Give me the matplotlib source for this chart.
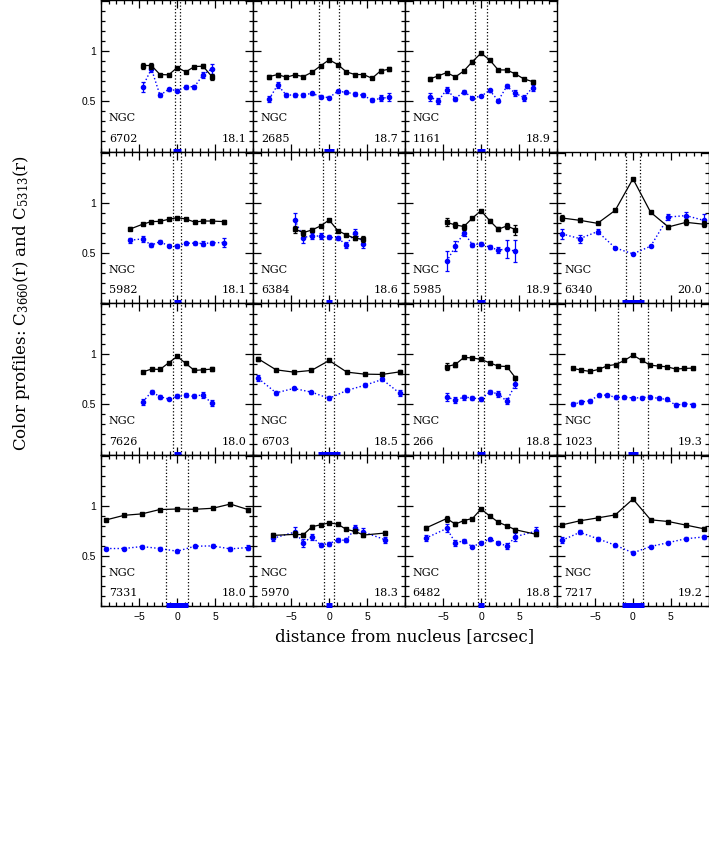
import numpy as np
import matplotlib
matplotlib.use('Agg')
import matplotlib.pyplot as plt
from matplotlib.ticker import MultipleLocator, FixedLocator

plt.rcParams['mathtext.fontset'] = 'dejavuserif'

# ---------------- data ----------------
galaxies = ['6702', '2685', '1161', '5982', '6384', '5985', '6340',
            '7626', '6703', '266', '1023', '7331', '5970', '6482', '7217']
magnitudes = [18.1, 18.7, 18.9, 18.1, 18.6, 18.9, 20.0,
              18.0, 18.5, 18.8, 19.3, 18.0, 18.3, 18.8, 19.2]
aperture_halfwidth = [0.35, 1.28, 0.8, 0.53, 0.83, 0.5, 0.92,
                      0.5, 0.6, 0.35, 1.95, 1.42, 0.65, 0.46, 1.37]
seeing_halfwidth = [0.55, 0.65, 0.55, 0.45, 0.4, 0.48, 1.5,
                    0.45, 1.45, 0.48, 0.6, 1.45, 0.4, 0.4, 1.47]

r_6702 = [-4.55, -3.4, -2.27, -1.13, 0, 1.13, 2.27, 3.4, 4.55]
c3660_6702 = [0.857, 0.857, 0.767, 0.764, 0.837, 0.794, 0.847, 0.85, 0.747]
e3660_6702 = [0.03, 0.03, 0.01, 0.01, 0.01, 0.01, 0.01, 0.02, 0.03]
c5313_6702 = [0.647, 0.824, 0.56, 0.62, 0.607, 0.644, 0.647, 0.764, 0.824]
e5313_6702 = [0.05, 0.03, 0.02, 0.015, 0.015, 0.02, 0.02, 0.03, 0.05]

r_2685 = [-7.9, -6.78, -5.65, -4.52, -3.39, -2.26, -1.13, 0, 1.13, 2.26, 3.39, 4.52, 5.65, 6.78, 7.9]
c3660_2685 = [0.747, 0.767, 0.74, 0.764, 0.747, 0.79, 0.854, 0.914, 0.867, 0.794, 0.767, 0.767, 0.73, 0.804, 0.82]
e3660_2685 = [0.02, 0.02, 0.01, 0.01, 0.01, 0.01, 0.01, 0.01, 0.01, 0.01, 0.01, 0.01, 0.01, 0.02, 0.02]
c5313_2685 = [0.523, 0.663, 0.563, 0.563, 0.563, 0.58, 0.547, 0.537, 0.6, 0.59, 0.573, 0.56, 0.51, 0.53, 0.54]
e5313_2685 = [0.03, 0.03, 0.02, 0.02, 0.02, 0.015, 0.015, 0.015, 0.015, 0.015, 0.02, 0.02, 0.02, 0.03, 0.04]

r_1161 = [-6.78, -5.65, -4.52, -3.39, -2.26, -1.13, 0, 1.13, 2.26, 3.39, 4.52, 5.65, 6.78]
c3660_1161 = [0.723, 0.753, 0.787, 0.743, 0.803, 0.897, 0.98, 0.913, 0.813, 0.813, 0.773, 0.723, 0.697]
e3660_1161 = [0.02, 0.02, 0.01, 0.01, 0.01, 0.01, 0.01, 0.01, 0.01, 0.01, 0.01, 0.01, 0.015]
c5313_1161 = [0.547, 0.503, 0.617, 0.527, 0.597, 0.537, 0.55, 0.61, 0.507, 0.65, 0.58, 0.537, 0.637]
e5313_1161 = [0.04, 0.03, 0.03, 0.02, 0.02, 0.01, 0.01, 0.015, 0.015, 0.02, 0.03, 0.03, 0.03]

r_5982 = [-6.18, -4.56, -3.42, -2.28, -1.14, 0, 1.14, 2.28, 3.42, 4.56, 6.14]
c3660_5982 = [0.738, 0.785, 0.811, 0.814, 0.834, 0.851, 0.837, 0.807, 0.817, 0.817, 0.811]
e3660_5982 = [0.015, 0.01, 0.01, 0.01, 0.01, 0.01, 0.01, 0.01, 0.01, 0.015, 0.02]
c5313_5982 = [0.626, 0.639, 0.576, 0.612, 0.569, 0.566, 0.596, 0.596, 0.593, 0.6, 0.603]
e5313_5982 = [0.025, 0.03, 0.02, 0.015, 0.015, 0.02, 0.015, 0.015, 0.02, 0.02, 0.04]

r_6384 = [-4.52, -3.39, -2.26, -1.13, 0, 1.13, 2.26, 3.39, 4.52]
c3660_6384 = [0.735, 0.702, 0.728, 0.768, 0.827, 0.722, 0.679, 0.645, 0.636]
e3660_6384 = [0.035, 0.03, 0.02, 0.01, 0.01, 0.01, 0.01, 0.02, 0.03]
c5313_6384 = [0.827, 0.652, 0.672, 0.665, 0.655, 0.649, 0.579, 0.702, 0.593]
e5313_6384 = [0.07, 0.05, 0.03, 0.03, 0.02, 0.02, 0.03, 0.04, 0.04]

r_5985 = [-4.52, -3.39, -2.26, -1.13, 0, 1.13, 2.26, 3.39, 4.52]
c3660_5985 = [0.804, 0.778, 0.762, 0.847, 0.92, 0.821, 0.735, 0.768, 0.732]
e3660_5985 = [0.04, 0.03, 0.03, 0.015, 0.01, 0.015, 0.02, 0.03, 0.05]
c5313_5985 = [0.414, 0.566, 0.698, 0.583, 0.589, 0.556, 0.529, 0.536, 0.516]
e5313_5985 = [0.10, 0.05, 0.03, 0.02, 0.02, 0.02, 0.03, 0.09, 0.11]

r_6340 = [-9.32, -6.99, -4.66, -2.33, 0, 2.33, 4.66, 6.99, 9.32]
c3660_6340 = [0.847, 0.824, 0.794, 0.924, 1.238, 0.904, 0.758, 0.804, 0.785]
e3660_6340 = [0.03, 0.02, 0.01, 0.005, 0.01, 0.005, 0.02, 0.03, 0.03]
c5313_6340 = [0.688, 0.642, 0.712, 0.549, 0.49, 0.566, 0.857, 0.871, 0.824]
e5313_6340 = [0.05, 0.04, 0.025, 0.01, 0.01, 0.01, 0.03, 0.04, 0.06]

r_7626 = [-4.52, -3.39, -2.26, -1.13, 0, 1.13, 2.26, 3.39, 4.52]
c3660_7626 = [0.824, 0.851, 0.848, 0.914, 0.977, 0.907, 0.838, 0.844, 0.851]
e3660_7626 = [0.01, 0.01, 0.01, 0.01, 0.01, 0.01, 0.01, 0.01, 0.02]
c5313_7626 = [0.526, 0.625, 0.576, 0.553, 0.579, 0.589, 0.579, 0.596, 0.51]
e5313_7626 = [0.03, 0.02, 0.02, 0.01, 0.02, 0.02, 0.02, 0.03, 0.03]

r_6703 = [-9.32, -6.99, -4.66, -2.33, 0, 2.33, 4.66, 6.99, 9.32]
c3660_6703 = [0.953, 0.844, 0.821, 0.838, 0.937, 0.821, 0.801, 0.798, 0.824]
e3660_6703 = [0.02, 0.01, 0.01, 0.01, 0.01, 0.01, 0.01, 0.01, 0.02]
c5313_6703 = [0.758, 0.615, 0.658, 0.622, 0.559, 0.639, 0.689, 0.748, 0.609]
e5313_6703 = [0.03, 0.02, 0.015, 0.015, 0.02, 0.02, 0.02, 0.02, 0.03]

r_266 = [-4.52, -3.39, -2.26, -1.13, 0, 1.13, 2.26, 3.39, 4.52]
c3660_266 = [0.877, 0.897, 0.967, 0.963, 0.947, 0.914, 0.881, 0.877, 0.765]
e3660_266 = [0.03, 0.02, 0.01, 0.01, 0.01, 0.01, 0.01, 0.01, 0.02]
c5313_266 = [0.576, 0.54, 0.573, 0.563, 0.553, 0.622, 0.606, 0.53, 0.702]
e5313_266 = [0.04, 0.03, 0.025, 0.02, 0.02, 0.02, 0.03, 0.03, 0.04]

r_1023 = [-7.9, -6.78, -5.65, -4.52, -3.39, -2.26, -1.13, 0, 1.13, 2.26, 3.39, 4.52, 5.65, 6.78, 7.9]
c3660_1023 = [0.858, 0.841, 0.828, 0.848, 0.884, 0.897, 0.937, 0.99, 0.94, 0.891, 0.881, 0.874, 0.851, 0.858, 0.861]
e3660_1023 = [0.015, 0.01, 0.01, 0.01, 0.01, 0.01, 0.01, 0.01, 0.01, 0.01, 0.01, 0.01, 0.01, 0.01, 0.015]
c5313_1023 = [0.5, 0.523, 0.536, 0.589, 0.592, 0.569, 0.573, 0.563, 0.566, 0.573, 0.559, 0.549, 0.49, 0.507, 0.497]
e5313_1023 = [0.02, 0.02, 0.02, 0.015, 0.015, 0.015, 0.015, 0.015, 0.015, 0.015, 0.015, 0.015, 0.02, 0.02, 0.02]

r_7331 = [-9.32, -6.99, -4.66, -2.33, 0, 2.33, 4.66, 6.99, 9.32]
c3660_7331 = [0.859, 0.904, 0.918, 0.961, 0.967, 0.964, 0.974, 1.016, 0.961]
e3660_7331 = [0.01, 0.01, 0.01, 0.01, 0.01, 0.01, 0.01, 0.015, 0.02]
c5313_7331 = [0.573, 0.573, 0.593, 0.573, 0.546, 0.596, 0.599, 0.569, 0.583]
e5313_7331 = [0.015, 0.015, 0.015, 0.015, 0.015, 0.015, 0.015, 0.02, 0.025]

r_5970 = [-7.37, -4.52, -3.39, -2.26, -1.13, 0, 1.13, 2.26, 3.39, 4.52, 7.32]
c3660_5970 = [0.704, 0.714, 0.711, 0.79, 0.809, 0.829, 0.816, 0.763, 0.744, 0.707, 0.727]
e3660_5970 = [0.02, 0.03, 0.02, 0.02, 0.01, 0.01, 0.01, 0.01, 0.02, 0.02, 0.02]
c5313_5970 = [0.675, 0.737, 0.632, 0.691, 0.609, 0.622, 0.658, 0.655, 0.773, 0.737, 0.662]
e5313_5970 = [0.03, 0.05, 0.04, 0.03, 0.02, 0.02, 0.02, 0.02, 0.03, 0.04, 0.03]

r_6482 = [-7.3, -4.52, -3.39, -2.26, -1.13, 0, 1.13, 2.26, 3.39, 4.52, 7.28]
c3660_6482 = [0.776, 0.872, 0.816, 0.852, 0.872, 0.967, 0.898, 0.836, 0.799, 0.76, 0.714]
e3660_6482 = [0.02, 0.03, 0.02, 0.01, 0.01, 0.01, 0.01, 0.01, 0.01, 0.02, 0.02]
c5313_6482 = [0.675, 0.773, 0.632, 0.648, 0.589, 0.632, 0.665, 0.632, 0.596, 0.691, 0.747]
e5313_6482 = [0.03, 0.04, 0.03, 0.02, 0.015, 0.015, 0.015, 0.015, 0.03, 0.04, 0.04]

r_7217 = [-9.32, -6.99, -4.66, -2.33, 0, 2.33, 4.66, 6.99, 9.32]
c3660_7217 = [0.809, 0.849, 0.878, 0.908, 1.066, 0.859, 0.842, 0.806, 0.77]
e3660_7217 = [0.015, 0.01, 0.01, 0.01, 0.01, 0.01, 0.01, 0.01, 0.015]
c5313_7217 = [0.655, 0.734, 0.671, 0.606, 0.53, 0.593, 0.632, 0.671, 0.688]
e5313_7217 = [0.03, 0.02, 0.02, 0.015, 0.015, 0.015, 0.015, 0.015, 0.02]

profiles = {
    '6702': (r_6702, c3660_6702, e3660_6702, c5313_6702, e5313_6702),
    '2685': (r_2685, c3660_2685, e3660_2685, c5313_2685, e5313_2685),
    '1161': (r_1161, c3660_1161, e3660_1161, c5313_1161, e5313_1161),
    '5982': (r_5982, c3660_5982, e3660_5982, c5313_5982, e5313_5982),
    '6384': (r_6384, c3660_6384, e3660_6384, c5313_6384, e5313_6384),
    '5985': (r_5985, c3660_5985, e3660_5985, c5313_5985, e5313_5985),
    '6340': (r_6340, c3660_6340, e3660_6340, c5313_6340, e5313_6340),
    '7626': (r_7626, c3660_7626, e3660_7626, c5313_7626, e5313_7626),
    '6703': (r_6703, c3660_6703, e3660_6703, c5313_6703, e5313_6703),
    '266': (r_266, c3660_266, e3660_266, c5313_266, e5313_266),
    '1023': (r_1023, c3660_1023, e3660_1023, c5313_1023, e5313_1023),
    '7331': (r_7331, c3660_7331, e3660_7331, c5313_7331, e5313_7331),
    '5970': (r_5970, c3660_5970, e3660_5970, c5313_5970, e5313_5970),
    '6482': (r_6482, c3660_6482, e3660_6482, c5313_6482, e5313_6482),
    '7217': (r_7217, c3660_7217, e3660_7217, c5313_7217, e5313_7217),
}

# panel grid positions (row, col); the top-right cell stays empty
cells = [(0, 0), (0, 1), (0, 2),
         (1, 0), (1, 1), (1, 2), (1, 3),
         (2, 0), (2, 1), (2, 2), (2, 3),
         (3, 0), (3, 1), (3, 2), (3, 3)]

# ---------------- figure ----------------
W, H = 709, 866
fig = plt.figure(figsize=(W / 100, H / 100), dpi=100)

x0_px, pw_px = 101.3, 151.9
ph_px = 151.5
serif = 'DejaVu Serif'
BLUE = '#0000ff'

for i, name in enumerate(galaxies):
    row, col = cells[i]
    left = (x0_px + col * pw_px) / W
    bottom = 1 - (row + 1) * ph_px / H
    ax = fig.add_axes([left, bottom, pw_px / W, ph_px / H])
    r, cb, eb, cbl, ebl = profiles[name]

    ax.errorbar(r, cbl, yerr=ebl, color=BLUE, ls=':', lw=1.0, marker='o',
                ms=3.0, capsize=1.6, elinewidth=0.9, capthick=0.9, zorder=3)
    ax.errorbar(r, cb, yerr=eb, color='black', ls='-', lw=0.9, marker='s',
                ms=2.9, capsize=1.6, elinewidth=0.9, capthick=0.9, zorder=4)

    a = aperture_halfwidth[i]
    for xv in (-a, a):
        ax.axvline(xv, color='black', ls=':', lw=0.9, zorder=2)
    s = seeing_halfwidth[i]
    ax.plot([-s, s], [0.008, 0.008], color=BLUE, lw=3.6, solid_capstyle='butt',
            clip_on=False, zorder=6)

    ax.set_xlim(-10, 10)
    ax.set_ylim(0, 1.51)
    ax.xaxis.set_major_locator(FixedLocator([-5, 0, 5]))
    ax.xaxis.set_minor_locator(MultipleLocator(1))
    ax.yaxis.set_major_locator(FixedLocator([0.5, 1.0, 1.5]))
    ax.yaxis.set_minor_locator(MultipleLocator(0.1))
    ax.tick_params(which='both', direction='in', top=True, right=True,
                   width=0.9, labelsize=7.5, pad=4)
    ax.tick_params(which='major', length=6)
    ax.tick_params(which='minor', length=3)
    for sp in ax.spines.values():
        sp.set_linewidth(1.0)

    if row == 3:
        ax.set_xticklabels(['\u22125', '0', '5'], family='Liberation Sans')
    else:
        ax.set_xticklabels([])
    if col == 0:
        ax.set_yticklabels(['0.5', '1', ''], family='Liberation Sans')
    else:
        ax.set_yticklabels([])

    ax.text(0.05, 0.22, 'NGC', transform=ax.transAxes, family=serif,
            fontsize=8, va='center', ha='left')
    ax.text(0.05, 0.085, name, transform=ax.transAxes, family=serif,
            fontsize=8, va='center', ha='left')
    ax.text(0.955, 0.085, f'{magnitudes[i]:.1f}', transform=ax.transAxes,
            family=serif, fontsize=8, va='center', ha='right')

fig.text(0.03, 1 - 303 / H, r'Color profiles: C$_{3660}$(r) and C$_{5313}$(r)',
         rotation=90, va='center', ha='center', family=serif, fontsize=12)
fig.text(405 / W, 1 - 636.5 / H, 'distance from nucleus [arcsec]',
         va='center', ha='center', family=serif, fontsize=12)

fig.savefig('out.png', dpi=100)
